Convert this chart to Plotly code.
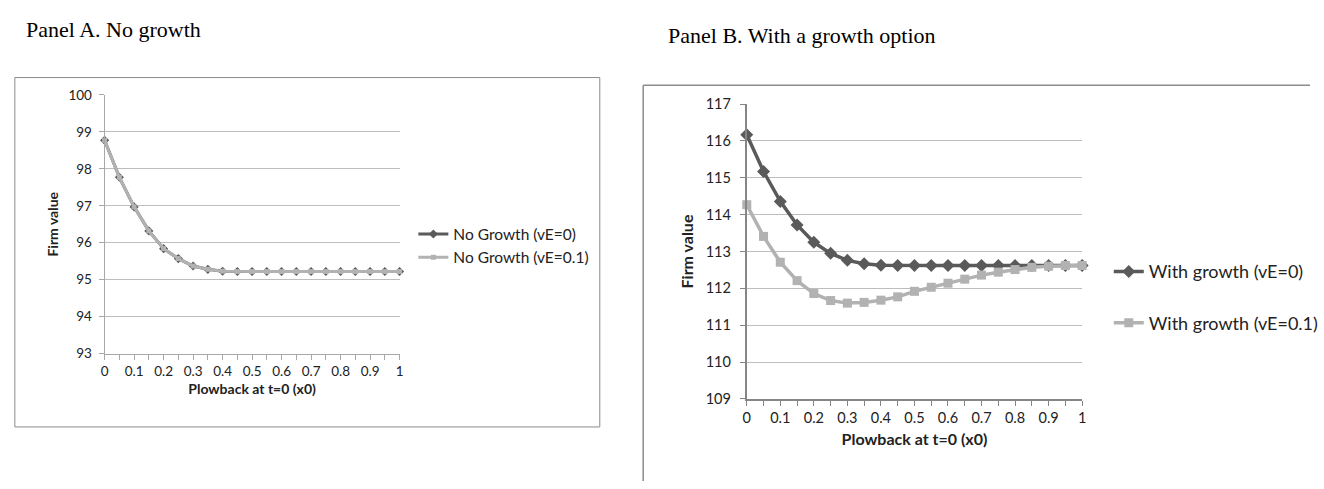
import plotly.graph_objects as go

# Plowback share at t=0
plowback = [0, 0.05, 0.1, 0.15, 0.2, 0.25, 0.3, 0.35, 0.4, 0.45, 0.5,
            0.55, 0.6, 0.65, 0.7, 0.75, 0.8, 0.85, 0.9, 0.95, 1]

# Panel A: no growth option
no_growth_ve0 = [98.77, 97.77, 96.97, 96.32, 95.84, 95.57, 95.37, 95.28, 95.23, 95.22, 95.22,
                 95.22, 95.22, 95.22, 95.22, 95.22, 95.22, 95.22, 95.22, 95.22, 95.22]
no_growth_ve01 = [98.77, 97.77, 96.97, 96.32, 95.84, 95.57, 95.37, 95.28, 95.23, 95.22, 95.22,
                  95.22, 95.22, 95.22, 95.22, 95.22, 95.22, 95.22, 95.22, 95.22, 95.22]

# Panel B: with a growth option
growth_ve0 = [116.17, 115.17, 114.36, 113.72, 113.25, 112.95, 112.76, 112.67, 112.63, 112.62, 112.62,
              112.62, 112.62, 112.62, 112.62, 112.62, 112.62, 112.62, 112.62, 112.62, 112.62]
growth_ve01 = [114.27, 113.41, 112.71, 112.21, 111.86, 111.67, 111.60, 111.62, 111.68, 111.77, 111.92,
               112.03, 112.14, 112.25, 112.36, 112.44, 112.51, 112.57, 112.60, 112.62, 112.62]

x_tickvals = plowback
x_ticktext = ["0" if v == 0 else ("1" if v == 1 else (f"{v:.1f}" if round(v * 100) % 10 == 0 else ""))
              for v in plowback]

W, H = 1324, 489
DARK = "#5a5a5a"
LIGHT = "#b2b2b2"
FONT = "Lato"
TEXT = "#222222"


def px_x(p):
    return p / W


def px_y(p):
    return 1 - p / H


fig = go.Figure()

# Panel A traces
fig.add_trace(go.Scatter(
    x=plowback, y=no_growth_ve0, name="No Growth (vE=0)", mode="lines+markers",
    line=dict(color=DARK, width=3), marker=dict(symbol="diamond", size=7, color=DARK),
    xaxis="x", yaxis="y", legend="legend", cliponaxis=False))
fig.add_trace(go.Scatter(
    x=plowback, y=no_growth_ve01, name="No Growth (vE=0.1)", mode="lines+markers",
    line=dict(color=LIGHT, width=3), marker=dict(symbol="square", size=5, color=LIGHT),
    xaxis="x", yaxis="y", legend="legend", cliponaxis=False))

# Panel B traces
fig.add_trace(go.Scatter(
    x=plowback, y=growth_ve0, name="With growth (vE=0)", mode="lines+markers",
    line=dict(color=DARK, width=3.5), marker=dict(symbol="diamond", size=10, color=DARK),
    xaxis="x2", yaxis="y2", legend="legend2", legendgroup="g0", cliponaxis=False))
fig.add_trace(go.Scatter(
    x=plowback, y=growth_ve01, name="With growth (vE=0.1)", mode="lines+markers",
    line=dict(color=LIGHT, width=3.5), marker=dict(symbol="square", size=9, color=LIGHT),
    xaxis="x2", yaxis="y2", legend="legend2", legendgroup="g1", cliponaxis=False))


def xaxis_cfg(x0, x1, y_anchor, axis_color, axis_width, tick_size, title_size, standoff):
    return dict(
        domain=[px_x(x0), px_x(x1)], range=[0, 1], anchor=y_anchor,
        tickmode="array", tickvals=x_tickvals, ticktext=x_ticktext,
        ticks="outside", ticklen=5, tickcolor=axis_color, tickwidth=1,
        showline=True, linecolor=axis_color, linewidth=axis_width,
        showgrid=False, zeroline=False,
        tickfont=dict(family=FONT, size=tick_size, color=TEXT),
        title=dict(text="Plowback at t=0 (x0)", standoff=standoff,
                   font=dict(family=FONT, size=title_size, color=TEXT, weight="bold")),
    )


def yaxis_cfg(y_top, y_bottom, rng, x_anchor, axis_color, axis_width, tick_size, title_size,
              label_gap, standoff):
    return dict(
        domain=[px_y(y_bottom), px_y(y_top)], range=rng, anchor=x_anchor, dtick=1,
        ticks="outside", ticklen=5, tickcolor=axis_color, tickwidth=1,
        ticklabelstandoff=label_gap,
        showline=True, linecolor=axis_color, linewidth=axis_width,
        showgrid=True, gridcolor="#bdbdbd", gridwidth=1, zeroline=False,
        tickfont=dict(family=FONT, size=tick_size, color=TEXT),
        title=dict(text="Firm value", standoff=standoff,
                   font=dict(family=FONT, size=title_size, color=TEXT, weight="bold")),
    )


fig.update_layout(
    width=W, height=H, margin=dict(l=0, r=0, t=0, b=0),
    paper_bgcolor="white", plot_bgcolor="white",
    font=dict(family=FONT, color=TEXT),
    xaxis=xaxis_cfg(102, 401, "y", "#a8a8a8", 1, 13.5, 14, 6),
    yaxis=yaxis_cfg(89, 357, [93, 100], "x", "#a8a8a8", 1, 13.5, 14, 4, 6),
    xaxis2=xaxis_cfg(753, 1093, "y2", "#868686", 2, 14.5, 16, 8),
    yaxis2=yaxis_cfg(98.5, 404, [109, 117], "x2", "#868686", 2, 14.5, 16, 6, 8),
    legend=dict(x=px_x(415), y=px_y(216), xanchor="left", yanchor="top",
                font=dict(family=FONT, size=15.5, color=TEXT),
                bgcolor="rgba(0,0,0,0)", tracegroupgap=0),
    legend2=dict(x=px_x(1120), y=px_y(253), xanchor="left", yanchor="top",
                 font=dict(family=FONT, size=18, color=TEXT),
                 bgcolor="rgba(0,0,0,0)", tracegroupgap=25, traceorder="grouped"),
    shapes=[
        # Panel A chart frame
        dict(type="rect", xref="paper", yref="paper",
             x0=px_x(11), x1=px_x(604), y0=px_y(433), y1=px_y(71),
             line=dict(color="#8c8c8c", width=1)),
        # Panel B chart frame (top and left edges)
        dict(type="line", xref="paper", yref="paper",
             x0=px_x(648), x1=1, y0=px_y(79), y1=px_y(79),
             line=dict(color="#8c8c8c", width=1.5)),
        dict(type="line", xref="paper", yref="paper",
             x0=px_x(648), x1=px_x(648), y0=px_y(79), y1=0,
             line=dict(color="#8c8c8c", width=1.5)),
    ],
    annotations=[
        dict(text="Panel A. No growth", xref="paper", yref="paper",
             x=px_x(20), y=px_y(21), xanchor="left", yanchor="middle", showarrow=False,
             font=dict(family="Liberation Serif", size=22, color="black")),
        dict(text="Panel B. With a growth option", xref="paper", yref="paper",
             x=px_x(671), y=px_y(27), xanchor="left", yanchor="middle", showarrow=False,
             font=dict(family="Liberation Serif", size=22, color="black")),
    ],
)

fig.write_html("out.html")
